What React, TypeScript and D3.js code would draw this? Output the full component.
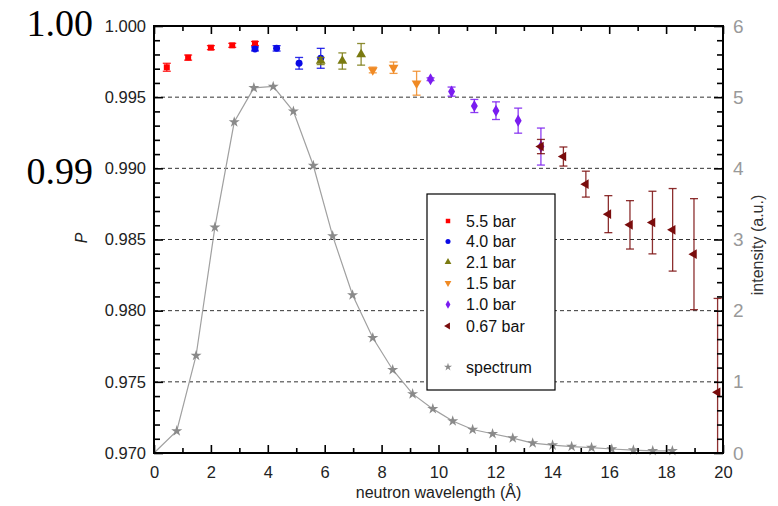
import { useEffect, useRef } from 'react';
import * as d3 from 'd3';

// wavelength (Å), polarization P and its error for each gas pressure
const lambda55 = [0.45, 1.2, 2.0, 2.75, 3.55];
const p55 = [0.9971, 0.99778, 0.99848, 0.99864, 0.99877];
const e55 = [0.00028, 0.00018, 0.00014, 0.00014, 0.00014];

const lambda40 = [3.55, 4.31, 5.1, 5.86];
const p40 = [0.99839, 0.99843, 0.99738, 0.99773];
const e40 = [0.00014, 0.00019, 0.00041, 0.0007];

const lambda21 = [5.86, 6.62, 7.28];
const p21 = [0.99754, 0.99754, 0.99801];
const e21 = [0.00025, 0.00057, 0.00076];

const lambda15 = [7.69, 8.42, 9.23];
const p15 = [0.99691, 0.99707, 0.99598];
const e15 = [0.0002, 0.0004, 0.00084];

const lambda10 = [9.72, 10.46, 11.26, 12.02, 12.8, 13.6];
const p10 = [0.99626, 0.99539, 0.99438, 0.99405, 0.99335, 0.99153];
const e10 = [0.0001, 0.00032, 0.00046, 0.00062, 0.00088, 0.0013];

const lambda067 = [13.6, 14.39, 15.18, 15.97, 16.73, 17.52, 18.23, 18.98, 19.81];
const p067 = [0.99153, 0.99083, 0.98889, 0.98678, 0.98603, 0.98619, 0.98568, 0.98397, 0.97426];
const e067 = [0.0005, 0.00067, 0.00091, 0.0013, 0.0017, 0.0022, 0.0029, 0.0039, 0.0066];

// neutron spectrum (right axis)
const spectrumLambda = [0, 0.8, 1.48, 2.14, 2.82, 3.51, 4.19, 4.9, 5.6, 6.28, 6.98, 7.69, 8.39, 9.09, 9.8,
  10.5, 11.2, 11.9, 12.61, 13.31, 14.01, 14.68, 15.38, 16.09, 16.85, 17.53, 18.22];
const spectrumIntensity = [0, 0.31, 1.37, 3.17, 4.65, 5.13, 5.15, 4.8, 4.04, 3.05, 2.22, 1.62, 1.17, 0.83, 0.62,
  0.45, 0.33, 0.27, 0.21, 0.14, 0.11, 0.09, 0.075, 0.056, 0.04, 0.03, 0.03];

const xTicks = [0, 2, 4, 6, 8, 10, 12, 14, 16, 18, 20];
const pTicks = [0.97, 0.975, 0.98, 0.985, 0.99, 0.995, 1.0];
const iTicks = [0, 1, 2, 3, 4, 5, 6];
const legendLabels = ['5.5 bar', '4.0 bar', '2.1 bar', '1.5 bar', '1.0 bar', '0.67 bar'];

const W = 778;
const H = 506;
const FONT = '"Liberation Sans", Arial, sans-serif';

export default function App() {
  const svgRef = useRef<SVGSVGElement>(null);

  useEffect(() => {
    if (!svgRef.current) return;
    const svg = d3.select(svgRef.current);
    svg.selectAll('*').remove();

    const left = 154, right = 723, top = 26, bottom = 453;
    const x = d3.scaleLinear().domain([0, 20]).range([left, right]);
    const yP = d3.scaleLinear().domain([0.97, 1.0]).range([bottom, top]);
    const yI = d3.scaleLinear().domain([0, 6]).range([bottom, top]);

    const series = [
      { label: legendLabels[0], xs: lambda55, ps: p55, es: e55, color: '#ff0000', sym: d3.symbolSquare, rot: 0, size: 36 },
      { label: legendLabels[1], xs: lambda40, ps: p40, es: e40, color: '#0a0ae6', sym: d3.symbolCircle, rot: 0, size: 38 },
      { label: legendLabels[2], xs: lambda21, ps: p21, es: e21, color: '#7a7a10', sym: d3.symbolTriangle, rot: 0, size: 42 },
      { label: legendLabels[3], xs: lambda15, ps: p15, es: e15, color: '#f08a24', sym: d3.symbolTriangle, rot: 180, size: 42 },
      { label: legendLabels[4], xs: lambda10, ps: p10, es: e10, color: '#7a1cf0', sym: d3.symbolDiamond, rot: 0, size: 42 },
      { label: legendLabels[5], xs: lambda067, ps: p067, es: e067, color: '#7a0c0c', sym: d3.symbolTriangle, rot: -90, size: 40 },
    ];

    svg.append('defs').append('clipPath').attr('id', 'plot-clip')
      .append('rect').attr('x', left).attr('y', top).attr('width', right - left).attr('height', bottom - top);

    // dashed gridlines
    svg.append('g')
      .selectAll('line')
      .data(pTicks.filter((v) => v > 0.9701 && v < 0.9999))
      .join('line')
      .attr('x1', left)
      .attr('x2', right)
      .attr('y1', (d) => yP(d))
      .attr('y2', (d) => yP(d))
      .attr('stroke', '#333')
      .attr('stroke-width', 1)
      .attr('stroke-dasharray', '4,3');

    // spectrum
    const line = d3.line<number>()
      .x((_, i) => x(spectrumLambda[i]))
      .y((d) => yI(d));
    svg.append('path')
      .datum(spectrumIntensity)
      .attr('d', line)
      .attr('fill', 'none')
      .attr('stroke', '#a0a0a0')
      .attr('stroke-width', 1.2);
    const star = d3.symbol(d3.symbolStar, 38)();
    svg.append('g')
      .selectAll('path')
      .data(spectrumIntensity.slice(1))
      .join('path')
      .attr('d', star)
      .attr('transform', (d, i) => `translate(${x(spectrumLambda[i + 1])},${yI(d)})`)
      .attr('fill', '#8a8a8a');

    // polarization series with error bars
    const dataG = svg.append('g').attr('clip-path', 'url(#plot-clip)');
    series.forEach((s) => {
      const g = dataG.append('g');
      s.ps.forEach((p, i) => {
        const cx = x(s.xs[i]);
        const y1 = yP(p + s.es[i]);
        const y2 = yP(p - s.es[i]);
        g.append('line').attr('x1', cx).attr('x2', cx).attr('y1', y1).attr('y2', y2)
          .attr('stroke', s.color).attr('stroke-width', 1.3).attr('opacity', 0.85);
        [y1, y2].forEach((yy) => {
          g.append('line').attr('x1', cx - 4).attr('x2', cx + 4).attr('y1', yy).attr('y2', yy)
            .attr('stroke', s.color).attr('stroke-width', 1.3).attr('opacity', 0.85);
        });
      });
      g.selectAll('path.m')
        .data(s.ps)
        .join('path')
        .attr('class', 'm')
        .attr('d', d3.symbol(s.sym, s.size)())
        .attr('transform', (d, i) => `translate(${x(s.xs[i])},${yP(d)}) rotate(${s.rot})`)
        .attr('fill', s.color);
    });

    // legend
    const lg = svg.append('g');
    lg.append('rect').attr('x', 427).attr('y', 194).attr('width', 128).attr('height', 196)
      .attr('fill', '#fff').attr('stroke', '#000').attr('stroke-width', 1.2);
    const rows = [221, 241.5, 262, 283, 304.5, 326];
    series.forEach((s, i) => {
      lg.append('path').attr('d', d3.symbol(s.sym, 20)())
        .attr('transform', `translate(448,${rows[i]}) rotate(${s.rot})`).attr('fill', s.color);
      lg.append('text').attr('x', 466).attr('y', rows[i]).attr('dy', '0.35em')
        .attr('font-family', FONT).attr('font-size', 16).attr('fill', '#111').text(s.label);
    });
    lg.append('path').attr('d', d3.symbol(d3.symbolStar, 20)())
      .attr('transform', 'translate(448,367)').attr('fill', '#8a8a8a');
    lg.append('text').attr('x', 466).attr('y', 367).attr('dy', '0.35em')
      .attr('font-family', FONT).attr('font-size', 16).attr('fill', '#111').text('spectrum');

    // axes
    const style = (g: d3.Selection<SVGGElement, unknown, null, undefined>, color: string, size: number) => {
      g.select('.domain').remove();
      g.selectAll('line').attr('stroke', '#000').attr('stroke-width', 1.6);
      g.selectAll('text').attr('fill', color).attr('font-size', size).attr('font-family', FONT);
    };
    const noLabel = () => '';
    const xMinor = d3.range(1, 20, 2);
    const yMinorIdx = d3.range(1, 30).filter((i) => i % 5 !== 0);

    style(svg.append('g').attr('transform', `translate(0,${bottom})`)
      .call(d3.axisBottom(x).tickValues(xTicks).tickSize(-8).tickPadding(13).tickFormat(d3.format('d'))), '#222', 16.5);
    style(svg.append('g').attr('transform', `translate(0,${bottom})`)
      .call(d3.axisBottom(x).tickValues(xMinor).tickSize(-5).tickFormat(noLabel)), '#222', 16);
    style(svg.append('g').attr('transform', `translate(0,${top})`)
      .call(d3.axisTop(x).tickValues(xTicks).tickSize(-8).tickFormat(noLabel)), '#222', 16);
    style(svg.append('g').attr('transform', `translate(0,${top})`)
      .call(d3.axisTop(x).tickValues(xMinor).tickSize(-5).tickFormat(noLabel)), '#222', 16);

    style(svg.append('g').attr('transform', `translate(${left},0)`)
      .call(d3.axisLeft(yP).tickValues(pTicks).tickSize(-9).tickPadding(8).tickFormat(d3.format('.3f'))), '#222', 16.5);
    style(svg.append('g').attr('transform', `translate(${left},0)`)
      .call(d3.axisLeft(yP).tickValues(yMinorIdx.map((i) => 0.97 + i * 0.001)).tickSize(-6).tickFormat(noLabel)), '#222', 16);
    style(svg.append('g').attr('transform', `translate(${right},0)`)
      .call(d3.axisRight(yI).tickValues(iTicks).tickSize(-9).tickPadding(10).tickFormat(d3.format('d'))), '#999', 19);
    style(svg.append('g').attr('transform', `translate(${right},0)`)
      .call(d3.axisRight(yI).tickValues(yMinorIdx.map((i) => i * 0.2)).tickSize(-6).tickFormat(noLabel)), '#999', 19);

    svg.append('rect').attr('x', left).attr('y', top).attr('width', right - left).attr('height', bottom - top)
      .attr('fill', 'none').attr('stroke', '#000').attr('stroke-width', 2);

    // titles
    svg.append('text').attr('x', (left + right) / 2).attr('y', 498).attr('text-anchor', 'middle')
      .attr('font-family', FONT).attr('font-size', 16).attr('fill', '#222').text('neutron wavelength (Å)');
    svg.append('text').attr('transform', 'translate(87,238) rotate(-90)').attr('text-anchor', 'middle')
      .attr('font-family', FONT).attr('font-size', 16).attr('font-style', 'italic').attr('fill', '#222').text('P');
    svg.append('text').attr('transform', 'translate(763,245) rotate(-90)').attr('text-anchor', 'middle')
      .attr('font-family', FONT).attr('font-size', 16).attr('fill', '#333').text('intensity (a.u.)');

    // large overlaid labels
    svg.append('text').attr('x', 93).attr('y', 36).attr('text-anchor', 'end')
      .attr('font-family', '"Liberation Serif", "Times New Roman", serif').attr('font-size', 38).attr('fill', '#000').text('1.00');
    svg.append('text').attr('x', 93).attr('y', 184).attr('text-anchor', 'end')
      .attr('font-family', '"Liberation Serif", "Times New Roman", serif').attr('font-size', 38).attr('fill', '#000').text('0.99');
  }, []);

  return (
    <svg
      ref={svgRef}
      width={W}
      height={H}
      style={{ position: 'absolute', left: 0, top: 0, background: '#fff' }}
    />
  );
}
